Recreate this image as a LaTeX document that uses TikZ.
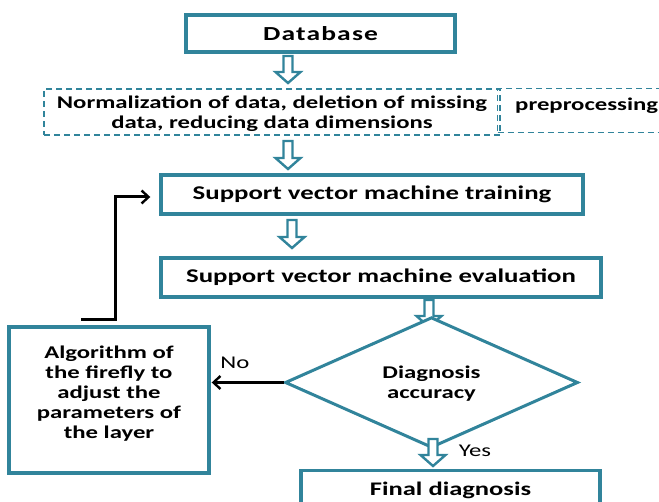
\documentclass[tikz,border=0pt]{standalone}
\usepackage{fontspec}
\setmainfont{Carlito}[FakeStretch=1.38]
\newfontfamily\dbfont{Carlito}[FakeStretch=1.38, LetterSpace=6]
\usepackage{xcolor}
\definecolor{boxteal}{HTML}{31849B}
\usepackage{tikz}
\usetikzlibrary{arrows.meta, positioning, shapes.geometric}

\tikzset{
    stepbox/.style={draw=boxteal, line width=3.4bp, fill=white, align=center, inner sep=0pt},
    dashbox/.style={draw=boxteal, line width=1.4bp, dash pattern=on 6bp off 4bp, align=center, inner sep=0pt},
    harrow/.style={draw=boxteal, line width=2.4bp, fill=white, line join=miter},
    blackarrow/.style={draw=black, line width=3bp, -{Straight Barb[length=7bp, width=13bp, line width=2.4bp]}},
    mainfont/.style={font=\fontsize{18}{20}\selectfont\bfseries}
}
% hollow block arrow pointing down: x, top y, tip y
\newcommand{\blockarrow}[3]{%
    \draw[harrow] (#1-4.5,#2) -- (#1+4.5,#2) -- (#1+4.5,#3-11) -- (#1+12.5,#3-11) -- (#1,#3)
        -- (#1-12.5,#3-11) -- (#1-4.5,#3-11) -- cycle;}

\begin{document}
\begin{tikzpicture}[x=1bp, y=-1bp]
    \useasboundingbox (0,0) rectangle (659,502);

    % Database
    \node[stepbox, minimum width=269bp, minimum height=37bp, font=\fontsize{20}{22}\selectfont\dbfont\bfseries] (db) at (320.5, 33.5) {Database};
    \blockarrow{288}{56}{83}

    % Preprocessing
    \node[dashbox, mainfont, minimum width=456bp, minimum height=46bp, text depth=0bp] (prep) at (272, 112) {Normalization of data, deletion of missing\\data, reducing data dimensions};
    \node[dashbox, mainfont, anchor=north west, minimum width=200bp, text height=17bp, text depth=17bp, inner ysep=5bp] (prelabel) at (497, 88) {\hspace*{-22bp}preprocessing};
    \blockarrow{288}{141}{169}

    % SVM
    \node[stepbox, minimum width=422bp, minimum height=39bp, font=\fontsize{19.5}{22}\selectfont\bfseries] (train) at (372, 194.5) {Support vector machine training};
    \blockarrow{292}{220}{248}
    \node[stepbox, minimum width=440bp, minimum height=39bp, font=\fontsize{19.5}{22}\selectfont\bfseries] (eval) at (381, 277.5) {Support vector machine evaluation};
    \blockarrow{429}{300}{327}

    % Decision
    \node[diamond, draw=boxteal, line width=3bp, fill=white, mainfont, align=center, inner sep=0pt, text depth=0bp, minimum width=293bp, minimum height=101bp] (acc) at (431.5, 382.5) {Diagnosis\\accuracy};
    \node[stepbox, mainfont, minimum width=200bp, minimum height=146bp, text depth=15bp] (tune) at (109, 400) {Algorithm of\\the firefly to\\adjust the\\parameters of\\the layer};
    \draw[blackarrow, line width=2.2bp] (acc.west) -- ([xshift=1bp]acc.west -| tune.east);
    \node[font=\fontsize{18}{20}\selectfont] (no) at (235, 363) {No};

    % Feedback
    \coordinate (fbstart) at (81, 319);
    \draw[blackarrow] (fbstart) -- (115, 319) |- ([xshift=-9bp, yshift=-2.5bp]train.west);

    % Final
    \blockarrow{433}{439}{466}
    \node[font=\fontsize{18}{20}\selectfont] (yes) at (475, 451) {Yes};
    \node[stepbox, anchor=north, minimum width=299bp, text height=21bp, text depth=40bp, inner ysep=4bp, font=\fontsize{19.3}{22}\selectfont\bfseries] (final) at (450.5, 469) {Final diagnosis};
\end{tikzpicture}
\end{document}
